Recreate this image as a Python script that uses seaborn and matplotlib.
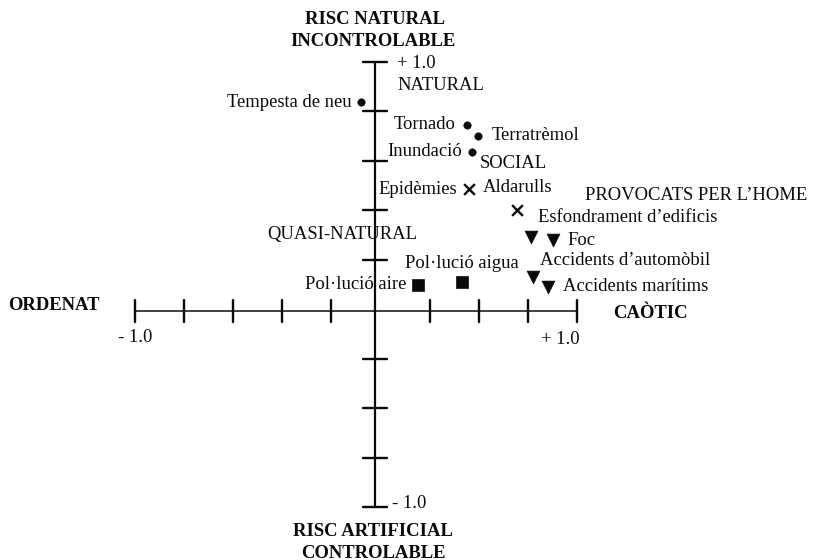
import numpy as np
import pandas as pd
import matplotlib
matplotlib.use("Agg")
import matplotlib.pyplot as plt
import seaborn as sns

# data (origin = axis crossing, one unit = half axis length)
risks = ["Tempesta de neu", "Tornado", "Terratrèmol", "Inundació",
         "Epidèmies", "Aldarulls",
         "Esfondrament d’edificis", "Foc", "Accidents d’automòbil", "Accidents marítims",
         "Pol·lució aire", "Pol·lució aigua"]
groups = ["natural"] * 4 + ["social"] * 2 + ["home"] * 4 + ["quasi"] * 2
x_vals = [-0.063, 0.416, 0.466, 0.439,
          0.425, 0.643,
          0.706, 0.805, 0.715, 0.783,
          0.195, 0.394]
y_vals = [0.939, 0.836, 0.787, 0.715,
          0.548, 0.454,
          0.333, 0.319, 0.153, 0.108,
          0.117, 0.130]

df = pd.DataFrame({"risk": risks, "group": groups, "x": x_vals, "y": y_vals})

sns.set_theme(style="white")
plt.rcParams["font.family"] = ["Liberation Serif", "DejaVu Serif"]

W, H = 814, 560
X0, Y0 = 375, 311      # pixel of the axis crossing
SX, SY = 221.0, 222.5  # pixels per unit


def px(x, y):
    return (x - X0) / SX, (Y0 - y) / SY


fig = plt.figure(figsize=(W / 100, H / 100), dpi=100)
ax = fig.add_axes([0, 0, 1, 1])
ax.set_xlim(px(0, 0)[0], px(W, 0)[0])
ax.set_ylim(px(0, H)[1], px(0, 0)[1])
ax.axis("off")

ink = "#0a0a0a"

# axes
x_left, x_right = px(135, 0)[0], px(577, 0)[0]
y_top, y_bot = px(0, 62)[1], px(0, 507)[1]
ax.plot([x_left, x_right], [0, 0], color=ink, lw=1.1)
ax.plot([0, 0], [y_bot, y_top], color=ink, lw=1.6)

step_x = (x_right - x_left) / 9
step_y = (y_top - y_bot) / 9
for k in range(10):
    if k == 5:
        continue
    tx = x_left + k * step_x
    ax.plot([tx, tx], [-11 / SY, 11 / SY], color=ink, lw=1.7)
    ty = y_top - k * step_y
    ax.plot([-12 / SX, 12 / SX], [ty, ty], color=ink, lw=1.7)

# points
markers = {"natural": ("o", 28), "social": ("x", 60), "home": ("v", 85), "quasi": ("s", 75)}
for g, (m, s) in markers.items():
    sub = df[df.group == g]
    if m == "x":
        sns.scatterplot(data=sub, x="x", y="y", marker=m, s=s, color=ink,
                        linewidth=1.7, ax=ax, legend=False)
    else:
        sns.scatterplot(data=sub, x="x", y="y", marker=m, s=s, color=ink,
                        edgecolor=ink, linewidth=0.5, ax=ax, legend=False)

# point labels: (dx, dy in points, ha)
offsets = {
    "Tempesta de neu": (-6.5, 0, "right"),
    "Tornado": (-8.5, 0, "right"),
    "Terratrèmol": (10, 0, "left"),
    "Inundació": (-7, 0, "right"),
    "Epidèmies": (-8.5, 0, "right"),
    "Aldarulls": (0, 16, "center"),
    "Esfondrament d’edificis": (5, 13.7, "left"),
    "Foc": (10.8, 0, "left"),
    "Accidents d’automòbil": (5, 12, "left"),
    "Accidents marítims": (10.8, 0, "left"),
    "Pol·lució aire": (-8.5, 0, "right"),
    "Pol·lució aigua": (0, 13.7, "center"),
}
fs = 13.4
for _, r in df.iterrows():
    dx, dy, ha = offsets[r.risk]
    ax.annotate(r.risk, (r.x, r.y), xytext=(dx, dy), textcoords="offset points",
                ha=ha, va="center", fontsize=fs, color=ink)

# group and axis texts
texts = [
    ("NATURAL", 397, 85, "left", "normal"),
    ("SOCIAL", 480, 163, "left", "normal"),
    ("PROVOCATS PER L’HOME", 585, 195, "left", "normal"),
    ("QUASI-NATURAL", 267, 235, "left", "normal"),
    ("ORDENAT", 8, 305, "left", "bold"),
    ("CAÒTIC", 613, 313, "left", "bold"),
    ("- 1.0", 135, 338, "center", "normal"),
    ("+ 1.0", 560, 340, "center", "normal"),
    ("+ 1.0", 397, 63, "left", "normal"),
    ("- 1.0", 392, 504, "left", "normal"),
    ("RISC NATURAL", 375, 20, "center", "bold"),
    ("INCONTROLABLE", 373, 42, "center", "bold"),
    ("RISC ARTIFICIAL", 373, 532, "center", "bold"),
    ("CONTROLABLE", 373, 553, "center", "bold"),
]
for t, x, y, ha, w in texts:
    dx, dy = px(x, y)
    ax.text(dx, dy, t, ha=ha, va="center", fontsize=fs, fontweight=w, color=ink)

fig.savefig("out.png", dpi=100, facecolor="white")
